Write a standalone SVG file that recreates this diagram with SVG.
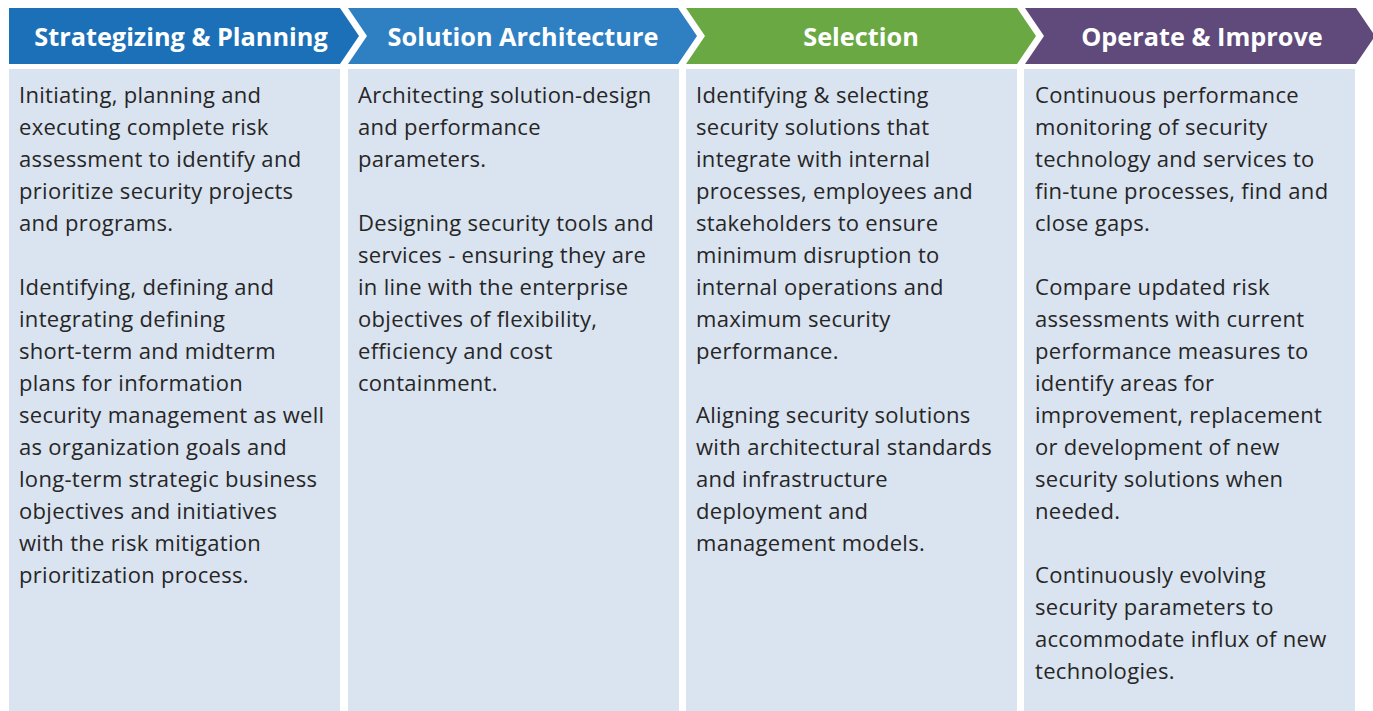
<svg xmlns="http://www.w3.org/2000/svg" width="1373" height="711" viewBox="0 0 1373 711">
<style>
.body{fill:#dae3f0}
.hd{font-family:"Open Sans","Noto Sans","Liberation Sans",sans-serif;font-weight:bold;font-size:25.3px;fill:#ffffff;text-anchor:middle}
.tx{font-family:"Open Sans","Noto Sans","Liberation Sans",sans-serif;font-size:22px;letter-spacing:0.3px;fill:#262626}
</style>
<rect width="1373" height="711" fill="#ffffff"/>
<g id="strategizing">
<polygon points="9,8 340,8 359,36 340,64 9,64" fill="#1c70b8"/>
<text class="hd" x="181" y="46">Strategizing &amp; Planning</text>
<rect class="body" x="9" y="69" width="331" height="642"/>
<text class="tx" x="19" y="103">
<tspan x="19" y="103">Initiating, planning and</tspan>
<tspan x="19" y="135">executing complete risk</tspan>
<tspan x="19" y="167">assessment to identify and</tspan>
<tspan x="19" y="199">prioritize security projects</tspan>
<tspan x="19" y="231">and programs.</tspan>
<tspan x="19" y="295">Identifying, defining and</tspan>
<tspan x="19" y="327">integrating defining</tspan>
<tspan x="19" y="359">short-term and midterm</tspan>
<tspan x="19" y="391">plans for information</tspan>
<tspan x="19" y="423">security management as well</tspan>
<tspan x="19" y="455">as organization goals and</tspan>
<tspan x="19" y="487">long-term strategic business</tspan>
<tspan x="19" y="519">objectives and initiatives</tspan>
<tspan x="19" y="551">with the risk mitigation</tspan>
<tspan x="19" y="583">prioritization process.</tspan>
</text>
</g>
<g id="solution-architecture">
<polygon points="348,8 678,8 697,36 678,64 348,64 367,36" fill="#2f7fc3"/>
<text class="hd" x="523" y="46">Solution Architecture</text>
<rect class="body" x="348" y="69" width="331" height="642"/>
<text class="tx" x="358" y="103">
<tspan x="358" y="103">Architecting solution-design</tspan>
<tspan x="358" y="135">and performance</tspan>
<tspan x="358" y="167">parameters.</tspan>
<tspan x="358" y="231">Designing security tools and</tspan>
<tspan x="358" y="263">services - ensuring they are</tspan>
<tspan x="358" y="295">in line with the enterprise</tspan>
<tspan x="358" y="327">objectives of flexibility,</tspan>
<tspan x="358" y="359">efficiency and cost</tspan>
<tspan x="358" y="391">containment.</tspan>
</text>
</g>
<g id="selection">
<polygon points="686,8 1017,8 1036,36 1017,64 686,64 705,36" fill="#6aa843"/>
<text class="hd" x="861" y="46">Selection</text>
<rect class="body" x="686" y="69" width="331" height="642"/>
<text class="tx" x="696" y="103">
<tspan x="696" y="103">Identifying &amp; selecting</tspan>
<tspan x="696" y="135">security solutions that</tspan>
<tspan x="696" y="167">integrate with internal</tspan>
<tspan x="696" y="199">processes, employees and</tspan>
<tspan x="696" y="231">stakeholders to ensure</tspan>
<tspan x="696" y="263">minimum disruption to</tspan>
<tspan x="696" y="295">internal operations and</tspan>
<tspan x="696" y="327">maximum security</tspan>
<tspan x="696" y="359">performance.</tspan>
<tspan x="696" y="423">Aligning security solutions</tspan>
<tspan x="696" y="455">with architectural standards</tspan>
<tspan x="696" y="487">and infrastructure</tspan>
<tspan x="696" y="519">deployment and</tspan>
<tspan x="696" y="551">management models.</tspan>
</text>
</g>
<g id="operate-improve">
<polygon points="1025,8 1356,8 1375,36 1356,64 1025,64 1044,36" fill="#5f4a7b"/>
<text class="hd" x="1202" y="46">Operate &amp; Improve</text>
<rect class="body" x="1024" y="69" width="331" height="642"/>
<text class="tx" x="1035" y="103">
<tspan x="1035" y="103">Continuous performance</tspan>
<tspan x="1035" y="135">monitoring of security</tspan>
<tspan x="1035" y="167">technology and services to</tspan>
<tspan x="1035" y="199">fin-tune processes, find and</tspan>
<tspan x="1035" y="231">close gaps.</tspan>
<tspan x="1035" y="295">Compare updated risk</tspan>
<tspan x="1035" y="327">assessments with current</tspan>
<tspan x="1035" y="359">performance measures to</tspan>
<tspan x="1035" y="391">identify areas for</tspan>
<tspan x="1035" y="423">improvement, replacement</tspan>
<tspan x="1035" y="455">or development of new</tspan>
<tspan x="1035" y="487">security solutions when</tspan>
<tspan x="1035" y="519">needed.</tspan>
<tspan x="1035" y="583">Continuously evolving</tspan>
<tspan x="1035" y="615">security parameters to</tspan>
<tspan x="1035" y="647">accommodate influx of new</tspan>
<tspan x="1035" y="679">technologies.</tspan>
</text>
</g>
</svg>
